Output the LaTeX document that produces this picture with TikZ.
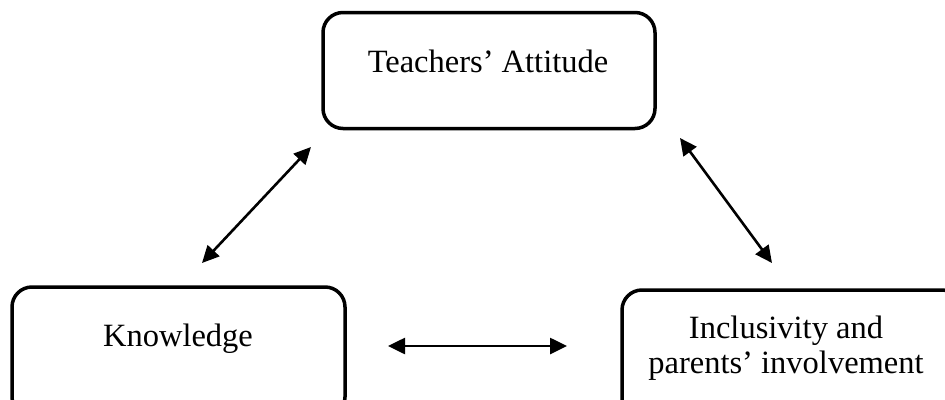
\documentclass[tikz,border=0pt]{standalone}
\usepackage{fontspec}
\setmainfont{Liberation Serif}
\usetikzlibrary{arrows.meta}
\begin{document}
\begin{tikzpicture}[x=1pt,y=-1pt,
  box/.style={draw,line width=3.5pt,rounded corners=20pt,inner sep=0pt},
  lbl/.style={inner sep=0pt,align=center,font=\fontsize{32.5}{35}\selectfont},
  link/.style={line width=2.6pt,{Triangle[length=17pt,width=16pt]}-{Triangle[length=17pt,width=16pt]}}]
\useasboundingbox (0,0) rectangle (945,399);
\clip (0,0) rectangle (945,399);
\fill[white] (0,0) rectangle (945,399);
\node[box,minimum width=332pt,minimum height=116pt] (ta) at (489,70.5) {};
\node[lbl] (tat) at (488,61) {Teachers’ Attitude};
\node[box,minimum width=333pt,minimum height=130pt] (kn) at (178.5,352) {};
\node[lbl] (knt) at (178,339) {Knowledge};
\node[box,minimum width=340pt,minimum height=130pt] (ip) at (792,355) {};
\node[lbl] (ipt) at (786,348) {Inclusivity and\\parents’ involvement};
\coordinate (a1) at (202,263);
\coordinate (a2) at (311,147);
\coordinate (b1) at (680,138);
\coordinate (b2) at (772,263);
\coordinate (c1) at (388,346);
\coordinate (c2) at (567,346);
\draw[link] (a1) -- (a2);
\draw[link] (b1) -- (b2);
\draw[link] (c1) -- (c2);
\end{tikzpicture}
\end{document}
